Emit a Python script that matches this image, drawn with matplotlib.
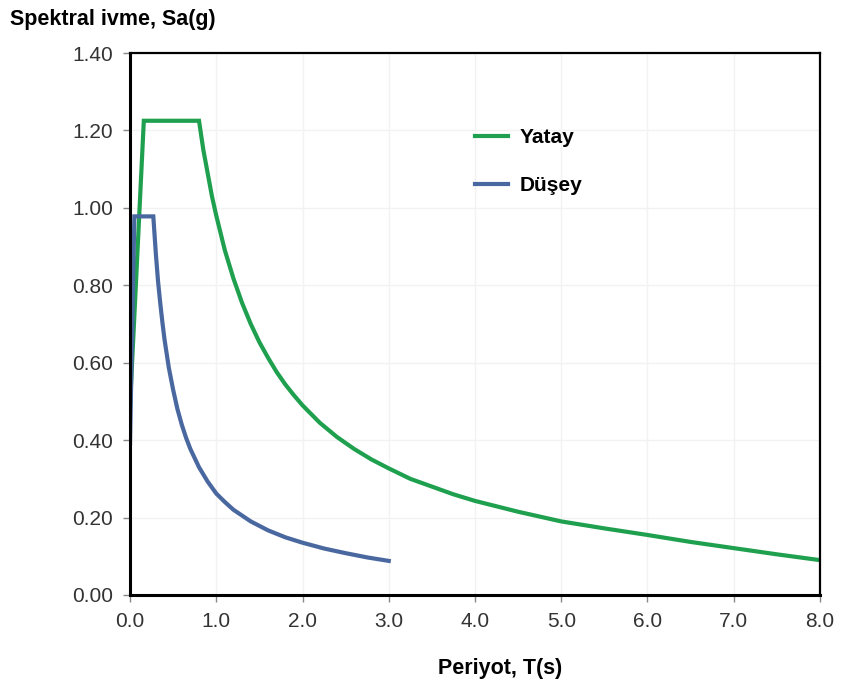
import matplotlib

matplotlib.use("Agg")
import matplotlib.pyplot as plt
from matplotlib.ticker import FormatStrFormatter, MultipleLocator

plt.rcParams["font.family"] = ["Liberation Sans", "DejaVu Sans"]

# values
t_yatay = [0.0, 0.16, 0.8, 0.85, 0.9, 0.95, 1.0, 1.1, 1.2, 1.3, 1.4, 1.5, 1.6, 1.7,
           1.8, 1.9, 2.0, 2.2, 2.4, 2.6, 2.8, 3.0, 3.25, 3.5, 3.75, 4.0, 4.5, 5.0,
           5.5, 6.0, 6.5, 7.0, 7.5, 8.0]
sa_yatay = [0.49, 1.225, 1.225, 1.15, 1.09, 1.03, 0.98, 0.89, 0.817, 0.754, 0.70,
            0.653, 0.613, 0.576, 0.544, 0.516, 0.49, 0.445, 0.408, 0.377, 0.35, 0.327,
            0.30, 0.28, 0.26, 0.243, 0.215, 0.19, 0.172, 0.155, 0.137, 0.121, 0.105,
            0.09]

t_dusey = [0.0, 0.05, 0.27, 0.3, 0.325, 0.35, 0.375, 0.4, 0.45, 0.5, 0.55, 0.6, 0.65,
           0.7, 0.8, 0.9, 1.0, 1.1, 1.2, 1.4, 1.6, 1.8, 2.0, 2.25, 2.5, 2.75, 3.0]
sa_dusey = [0.39, 0.978, 0.978, 0.88, 0.81, 0.755, 0.705, 0.66, 0.587, 0.53, 0.48,
            0.44, 0.406, 0.377, 0.33, 0.293, 0.262, 0.24, 0.22, 0.19, 0.167, 0.149,
            0.135, 0.12, 0.108, 0.097, 0.088]

labels = ["Yatay", "Düşey"]
colors = ["#1fa04f", "#4a68a0"]

fig = plt.figure(figsize=(8.41, 6.86), dpi=100)
ax = fig.add_axes([0.1546, 0.1327, 0.8204, 0.79])

ax.plot(t_yatay, sa_yatay, color=colors[0], lw=3, label=labels[0], solid_joinstyle="miter")
ax.plot(t_dusey, sa_dusey, color=colors[1], lw=3, label=labels[1], solid_joinstyle="miter")

ax.set_xlim(0, 8)
ax.set_ylim(0, 1.4)
ax.xaxis.set_major_locator(MultipleLocator(1.0))
ax.yaxis.set_major_locator(MultipleLocator(0.2))
ax.xaxis.set_major_formatter(FormatStrFormatter("%.1f"))
ax.yaxis.set_major_formatter(FormatStrFormatter("%.2f"))
ax.tick_params(labelsize=15, length=5, width=1, color="#888888", labelcolor="#333333")
ax.tick_params(axis="y", pad=7)
ax.tick_params(axis="x", pad=7)
ax.grid(True, color="#f2f2f2", lw=1)
ax.set_axisbelow(True)
for side in ("left", "bottom"):
    ax.spines[side].set_linewidth(2.2)
for side in ("top", "right"):
    ax.spines[side].set_linewidth(1.6)

fig.text(0.012, 0.971, "Spektral ivme, Sa(g)", fontsize=15.5, fontweight="bold", va="center")
fig.text(0.5945, 0.026, "Periyot, T(s)", fontsize=15.5, fontweight="bold", ha="center",
         va="center")

ax.legend(loc="upper left", bbox_to_anchor=(0.485, 0.88), frameon=False, borderpad=0,
          prop={"size": 15, "weight": "bold"}, handlelength=1.6, labelspacing=1.38,
          handletextpad=0.55)

fig.savefig("out.png", dpi=100)
